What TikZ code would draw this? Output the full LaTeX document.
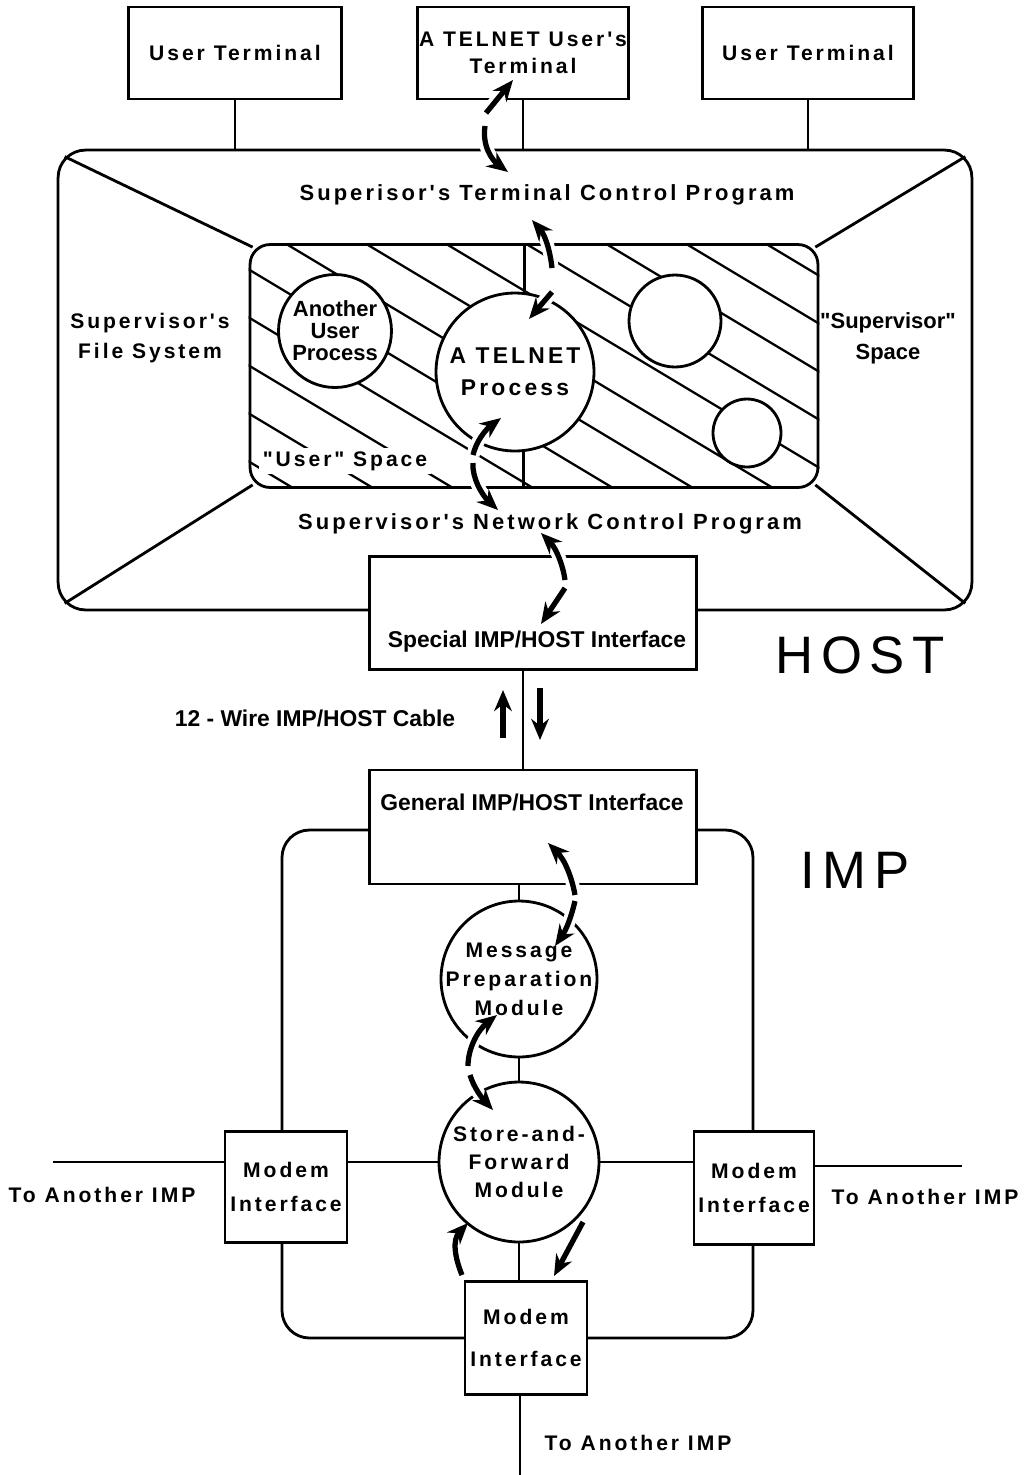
\documentclass[tikz,border=0pt]{standalone}
\usepackage{fontspec}
\setmainfont{Liberation Sans}
\newfontfamily\letr[LetterSpace=14]{Liberation Sans}
\newfontfamily\plainsans{Liberation Sans}
\usetikzlibrary{arrows,arrows.meta}
\usetikzlibrary{calc}
\usetikzlibrary{positioning}

\begin{document}
\begin{tikzpicture}[x=0.02cm,y=-0.02cm,>={Stealth[length=12pt,width=10pt]},semithick]
 \tikzstyle{wire}=[line width=1.6pt]
 \tikzstyle{box}=[draw, line width=1.6pt, fill=white, inner sep=0pt, align=center]
 \tikzstyle{blob}=[draw, circle, line width=1.6pt, fill=white, inner sep=0pt]
 \tikzstyle{hatch}=[line width=1.3pt]
 \tikzstyle{spaced}=[font=\letr\bfseries\fontsize{12}{17}\selectfont, align=center, inner sep=1pt]
 \tikzstyle{tight}=[font=\bfseries\fontsize{13}{14}\selectfont, align=center, inner sep=1pt]
 \tikzstyle{big}=[font=\letr\fontsize{30}{30}\selectfont]
 \tikzstyle{flow}=[->, line width=3pt, preaction={draw=white, line width=7.5pt, -, shorten >=9pt}]
 \useasboundingbox (0,0) rectangle (1027,1475);

 % HOST
 \node[box, fill=none, rounded corners=0.55cm, minimum width=18.28cm, minimum height=9.2cm] (host) at (515,380) {};
 \node[box, rounded corners=0.4cm, minimum width=11.36cm, minimum height=4.86cm] (inner) at (534,366) {};
 \begin{scope}
  \clip[rounded corners=0.4cm] (inner.south west) rectangle (inner.north east);
  \foreach \k in {0,...,12}
   \draw[hatch] ({-112+80*\k},245) -- ++(620,372);
 \end{scope}
 \draw[wire] ($(host.north west)+(8,8)$) -- ($(inner.north west)+(4,4)$);
 \draw[wire] ($(host.north east)+(-8,8)$) -- ($(inner.north east)+(-4,4)$);
 \draw[wire] ($(host.south west)+(8,-8)$) -- ($(inner.south west)+(4,-4)$);
 \draw[wire] ($(host.south east)+(-8,-8)$) -- ($(inner.south east)+(-4,-4)$);

 \node[blob, minimum size=2.26cm] (another) at (335,331) {};
 \node[tight, font=\bfseries\fontsize{12.5}{12.5}\selectfont] (anothertxt) at (another) {Another\\User\\Process};
 \node[blob, minimum size=3.16cm] (telnet) at (515,372) {};
 \node[spaced, font=\letr\bfseries\fontsize{13}{18}\selectfont] (telnettxt) at (telnet) {A TELNET\\Process};
 \node[blob, minimum size=1.84cm] (sc1) at (675,321) {};
 \node[blob, minimum size=1.36cm] (sc2) at (747,433) {};
 \draw[wire] (telnet.83) -- (telnet.83 |- inner.north);
 \draw[wire] (telnet.-84) -- (telnet.-84 |- inner.south);

 \node[box, spaced, minimum width=4.26cm, minimum height=1.84cm] (ut1) at (235,53) {User Terminal};
 \node[box, spaced, font=\letr\bfseries\fontsize{12}{15}\selectfont, minimum width=4.18cm, minimum height=1.84cm] (tut) at (523,53) {A TELNET User's\\Terminal};
 \node[box, spaced, minimum width=4.22cm, minimum height=1.84cm] (ut2) at (808,53) {User Terminal};
 \draw[wire] (ut1) -- (ut1 |- host.north);
 \draw[wire] (tut) -- (tut |- host.north);
 \draw[wire] (ut2) -- (ut2 |- host.north);

 \node[spaced, font=\letr\bfseries\fontsize{12.5}{17}\selectfont] (tcp) at (547,195) {Superisor's Terminal Control Program};
 \node[spaced, font=\letr\bfseries\fontsize{12.5}{17}\selectfont] (ncp) at (550,524) {Supervisor's Network Control Program};
 \node[spaced, font=\letr\bfseries\fontsize{12}{17.5}\selectfont] (fs) at (150,338) {Supervisor's\\File System};
 \node[spaced, font=\plainsans\bfseries\fontsize{12.5}{17.5}\selectfont] (ss) at (888,338) {"Supervisor"\\Space};
 \node[spaced, fill=white, inner sep=2pt] (us) at (345,461) {"User" Space};

 \node[big] (hostlbl) at (860,655) {HOST};
 \node[big] (implbl) at (855,870) {IMP};

 % IMP
 \draw[wire, rounded corners=0.55cm] (282,830) rectangle (753,1338);
 \node[box, minimum width=6.54cm, minimum height=2.26cm] (special) at (533,613) {};
 \node[tight] (speciallbl) at (537,642) {Special IMP/HOST Interface};
 \node[box, minimum width=6.54cm, minimum height=2.28cm] (general) at (533,827) {};
 \node[tight] (generallbl) at (532,802) {General IMP/HOST Interface};
 \coordinate (cab) at (523,700);
 \draw[wire] (special.south -| cab) -- (general.north -| cab);
 \node[tight] (cablelbl) at (315,718) {12 - Wire IMP/HOST Cable};

 \node[blob, minimum size=3.12cm] (mp) at (519,979) {};
 \node[spaced, font=\letr\bfseries\fontsize{12}{16.5}\selectfont] (mptxt) at (mp) {Message\\Preparation\\Module};
 \node[blob, minimum size=3.2cm] (sf) at (519,1162) {};
 \node[spaced, font=\letr\bfseries\fontsize{12}{16}\selectfont] (sftxt) at (sf) {Store-and-\\Forward\\Module};
 \node[box, spaced, font=\letr\bfseries\fontsize{12}{19}\selectfont, minimum width=2.44cm, minimum height=2.22cm] (lmod) at (286,1187) {Modem\\Interface};
 \node[box, spaced, font=\letr\bfseries\fontsize{12}{19}\selectfont, minimum width=2.4cm, minimum height=2.26cm] (rmod) at (754,1188) {Modem\\Interface};
 \node[box, spaced, font=\letr\bfseries\fontsize{12}{24}\selectfont, minimum width=2.44cm, minimum height=2.26cm] (bmod) at (526,1338) {Modem\\Interface};

 \draw[wire] (general.south -| mp) -- (mp);
 \draw[wire] (mp) -- (sf);
 \draw[wire] (sf) -- (sf |- bmod.north);
 \draw[wire] (lmod.east |- sf) -- (sf);
 \draw[wire] (sf) -- (rmod.west |- sf);
 \coordinate (lfar) at (53,1162);
 \coordinate (rfar) at (962,1166);
 \coordinate (bfar) at (520,1475);
 \draw[wire] (lfar) -- (lfar -| lmod.west);
 \draw[wire] (rfar -| rmod.east) -- (rfar);
 \draw[wire] (bmod.south -| bfar) -- (bfar);
 \node[spaced] (tolft) at (102,1195) {To Another IMP};
 \node[spaced] (torgt) at (925,1197) {To Another IMP};
 \node[spaced] (tobot) at (638,1443) {To Another IMP};

 % flow arrows
 \draw[flow] (486,113) -- (513,80);
 \draw[flow] (485,126) .. controls (482,146) and (492,160) .. (508,172);
 \draw[flow] (552,268) .. controls (550,250) and (545,235) .. (532,220);
 \draw[flow] (552,292) -- (529,319);
 \draw[flow] (473,455) .. controls (476,442) and (485,430) .. (501,418);
 \draw[flow] (473,463) .. controls (472,478) and (482,495) .. (498,510);
 \draw[flow] (565,580) .. controls (563,565) and (556,548) .. (541,533);
 \draw[flow] (565,588) -- (541,624);
 \draw[flow] (503,738) -- (503,690);
 \draw[flow] (540,688) -- (540,740);
 \draw[flow] (575,895) .. controls (572,878) and (565,860) .. (548,843);
 \draw[flow] (575,901) .. controls (571,918) and (566,930) .. (555,946);
 \draw[flow] (468,1066) .. controls (468,1048) and (478,1030) .. (497,1015);
 \draw[flow] (470,1075) .. controls (474,1088) and (482,1098) .. (493,1110);
 \draw[flow] (462,1275) .. controls (455,1258) and (452,1240) .. (468,1223);
 \draw[flow] (583,1222) -- (554,1276);
\end{tikzpicture}
\end{document}
